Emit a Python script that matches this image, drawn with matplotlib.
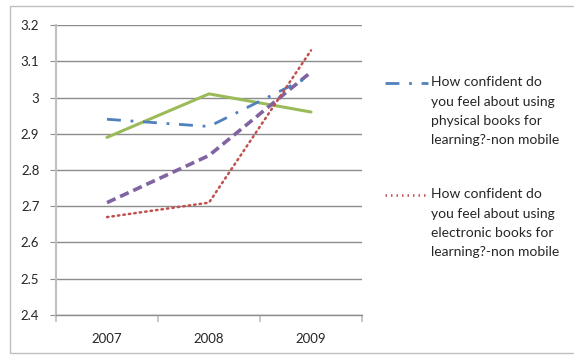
import matplotlib.pyplot as plt
from matplotlib.lines import Line2D
from matplotlib.patches import Rectangle

# --- Data ---
years = ['2007', '2008', '2009']
physical_books = [2.94, 2.92, 3.06]
electronic_books = [2.67, 2.71, 3.13]
green_series = [2.89, 3.01, 2.96]
purple_series = [2.71, 2.84, 3.07]

label_physical = 'How confident do\nyou feel about using\nphysical books for\nlearning?-non mobile'
label_electronic = 'How confident do\nyou feel about using\nelectronic books for\nlearning?-non mobile'

blue = '#4F81BD'
red = '#C0504D'
green = '#9BBB59'
purple = '#8064A2'
grid_col = '#8c8c8c'
text_col = '#262626'

plt.rcParams['font.family'] = ['Lato', 'DejaVu Sans']

fig = plt.figure(figsize=(5.74, 3.58), dpi=100)
ax = fig.add_axes([56 / 574, 1 - 315 / 358, (362 - 56) / 574, (315 - 25) / 358])

x = range(len(years))
ax.plot(x, green_series, color=green, lw=2.2, solid_capstyle='round')
ax.plot(x, purple_series, color=purple, lw=2.6, ls=(0, (2.6, 1.4)))
ax.plot(x, physical_books, color=blue, lw=2.0, ls=(0, (5, 3.5, 1, 3.5)))
ax.plot(x, electronic_books, color=red, lw=1.8, ls=(0, (0.6, 1.6)), dash_capstyle='round')

# --- Axes styling ---
ax.set_xlim(-0.5, 2.5)
ax.set_ylim(2.4, 3.2)
ax.set_yticks([2.4, 2.5, 2.6, 2.7, 2.8, 2.9, 3.0, 3.1, 3.2])
ax.set_yticklabels(['2.4', '2.5', '2.6', '2.7', '2.8', '2.9', '3', '3.1', '3.2'])
ax.set_xticks(list(x))
ax.set_xticklabels(years)
ax.set_xticks([-0.5, 0.5, 1.5, 2.5], minor=True)

ax.grid(axis='y', color=grid_col, lw=1.0)
ax.set_axisbelow(True)
for side in ['top', 'right']:
    ax.spines[side].set_visible(False)
ax.spines['left'].set_color('#bfbfbf')
ax.spines['left'].set_linewidth(1.5)
ax.spines['bottom'].set_color(grid_col)
ax.spines['bottom'].set_linewidth(1.0)

ax.tick_params(axis='y', length=4, color=grid_col, labelsize=9.5, labelcolor=text_col, pad=8)
ax.tick_params(axis='x', which='major', length=0, labelsize=9.5, labelcolor=text_col, pad=13)
ax.tick_params(axis='x', which='minor', length=5, color='#bfbfbf', width=1.2)

# --- Legend ---
def legend_entry(y_top, color, ls, lw, label):
    y_line = 1 - (y_top + 7) / 358
    fig.add_artist(Line2D([385 / 574, 428 / 574], [y_line, y_line], color=color,
                          ls=ls, lw=lw, transform=fig.transFigure))
    fig.text(431 / 574, 1 - y_top / 358, label, va='top', ha='left',
             fontsize=10, color=text_col, linespacing=1.75)

legend_entry(76, blue, (0, (5, 3.5, 1, 3.5)), 2.0, label_physical)
legend_entry(188, red, (0, (0.6, 1.6)), 1.8, label_electronic)

# --- Chart border ---
fig.add_artist(Rectangle((10 / 574, 1 - 353 / 358), 1.0, (353 - 6) / 358,
                         transform=fig.transFigure, fill=False,
                         edgecolor='#bfbfbf', lw=1.0))

fig.savefig('out.png', dpi=100)
